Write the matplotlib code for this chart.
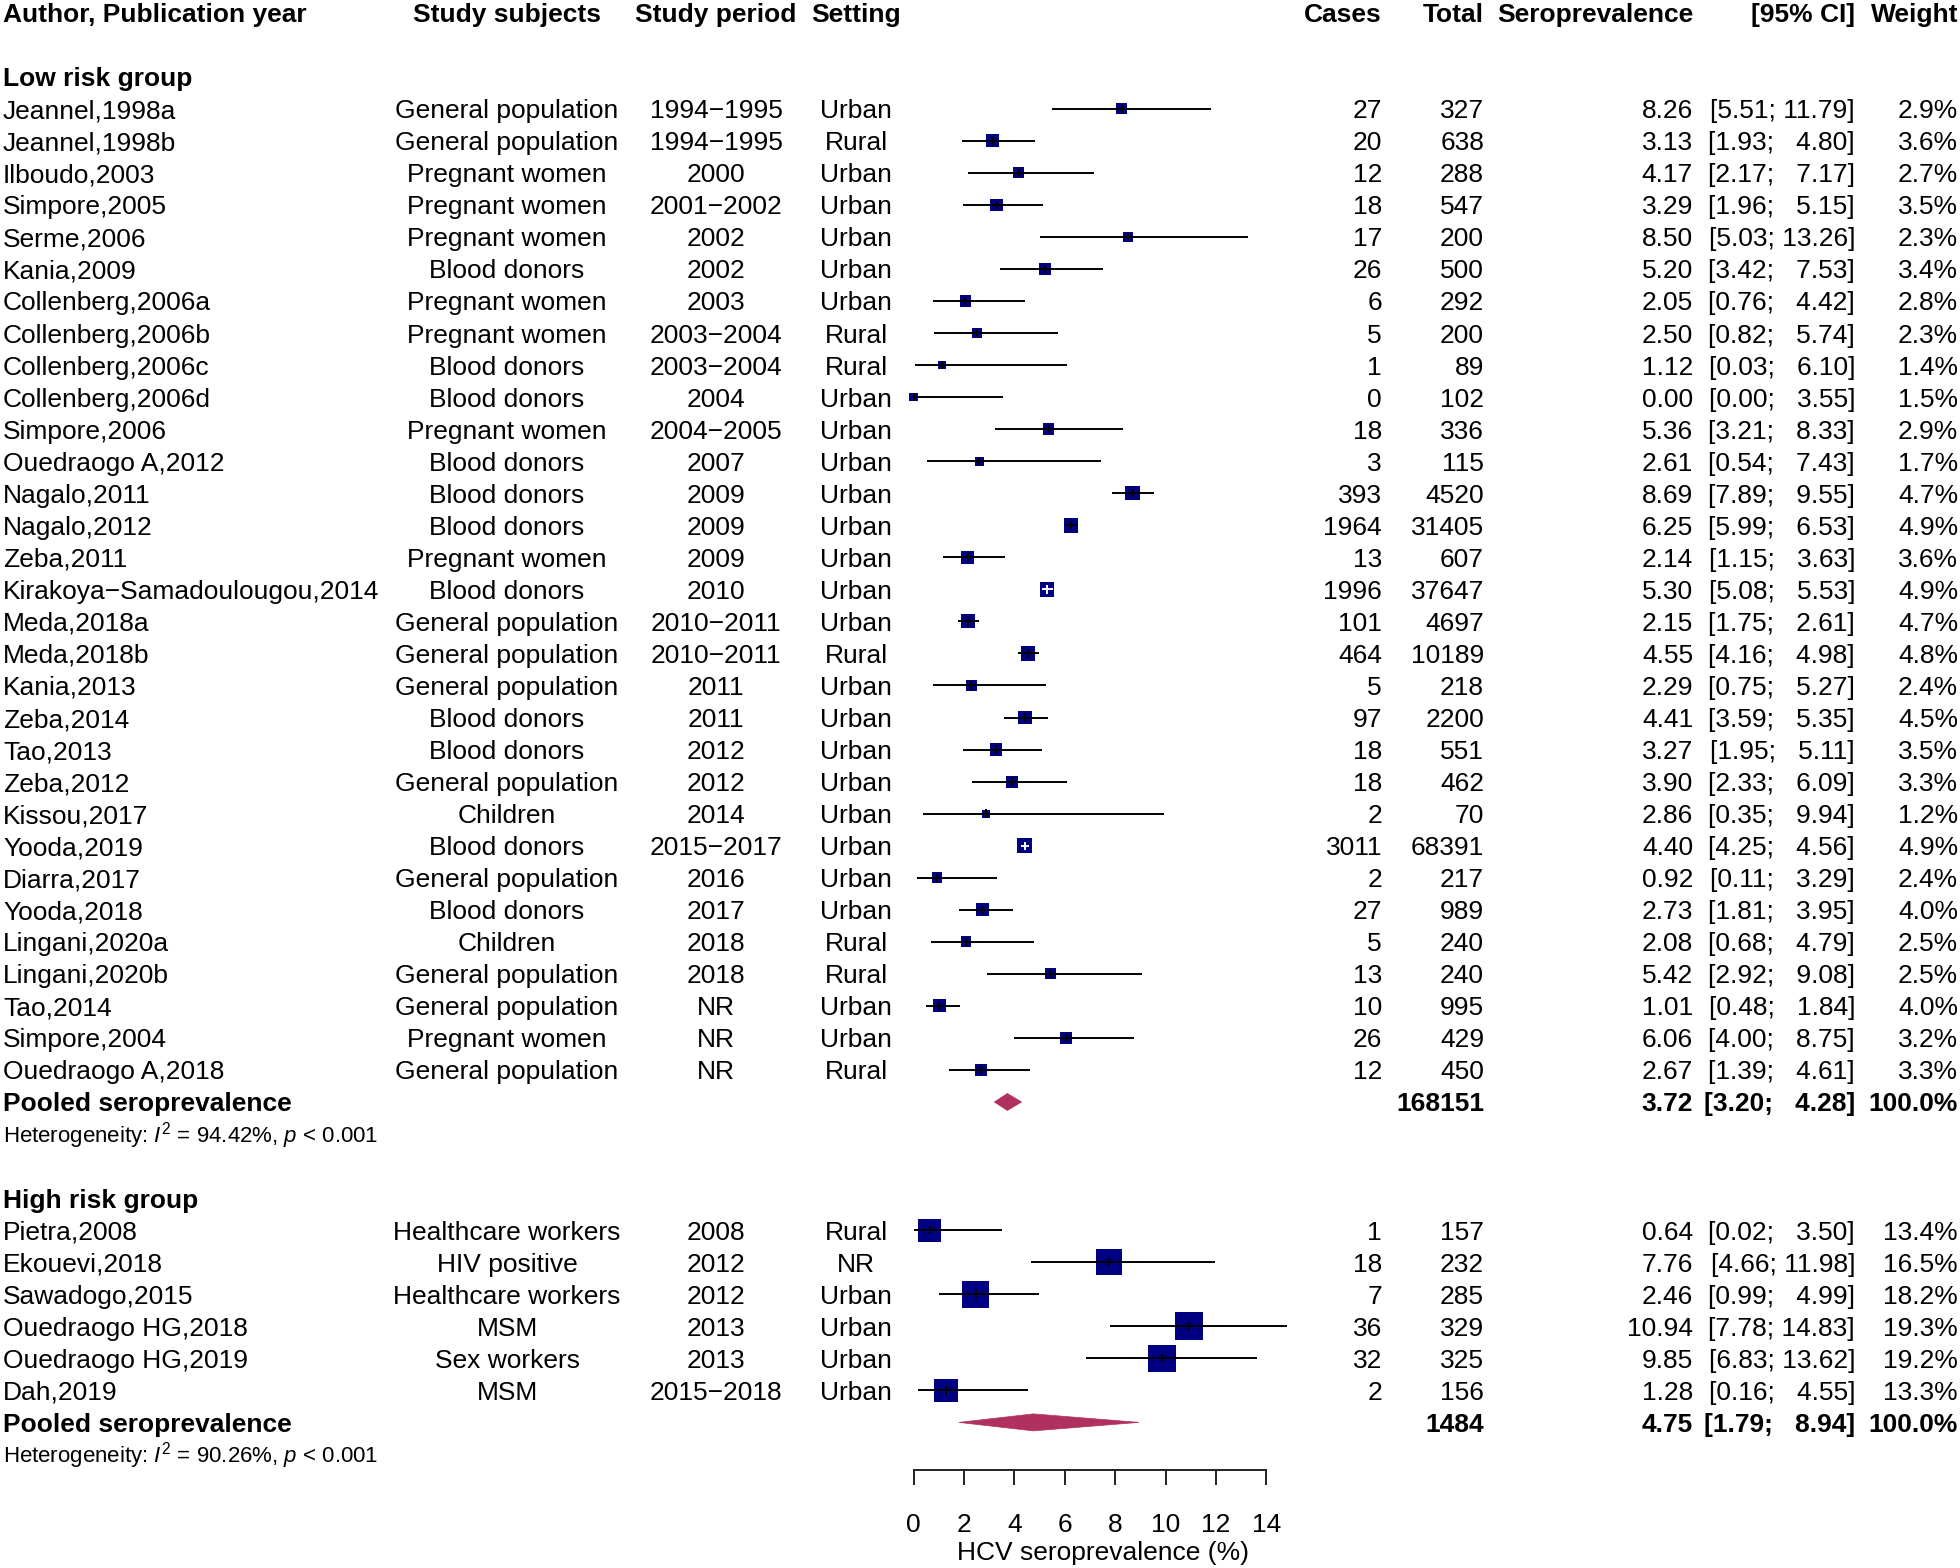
import numpy as np
import matplotlib
matplotlib.use("Agg")
import matplotlib.pyplot as plt
from matplotlib.patches import Polygon
from matplotlib.transforms import blended_transform_factory

plt.rcParams['font.family'] = ['Liberation Sans', 'DejaVu Sans']
plt.rcParams['mathtext.fontset'] = 'custom'
plt.rcParams['mathtext.rm'] = 'Liberation Sans'
plt.rcParams['mathtext.it'] = 'Liberation Sans:italic'

# ---- data: low risk group ----
low_authors = ["Jeannel,1998a", "Jeannel,1998b", "Ilboudo,2003", "Simpore,2005", "Serme,2006",
               "Kania,2009", "Collenberg,2006a", "Collenberg,2006b", "Collenberg,2006c",
               "Collenberg,2006d", "Simpore,2006", "Ouedraogo A,2012", "Nagalo,2011", "Nagalo,2012",
               "Zeba,2011", "Kirakoya\u2212Samadoulougou,2014", "Meda,2018a", "Meda,2018b",
               "Kania,2013", "Zeba,2014", "Tao,2013", "Zeba,2012", "Kissou,2017", "Yooda,2019",
               "Diarra,2017", "Yooda,2018", "Lingani,2020a", "Lingani,2020b", "Tao,2014",
               "Simpore,2004", "Ouedraogo A,2018"]
low_subjects = ["General population", "General population", "Pregnant women", "Pregnant women",
                "Pregnant women", "Blood donors", "Pregnant women", "Pregnant women", "Blood donors",
                "Blood donors", "Pregnant women", "Blood donors", "Blood donors", "Blood donors",
                "Pregnant women", "Blood donors", "General population", "General population",
                "General population", "Blood donors", "Blood donors", "General population", "Children",
                "Blood donors", "General population", "Blood donors", "Children", "General population",
                "General population", "Pregnant women", "General population"]
low_period = ["1994\u22121995", "1994\u22121995", "2000", "2001\u22122002", "2002", "2002", "2003",
              "2003\u22122004", "2003\u22122004", "2004", "2004\u22122005", "2007", "2009", "2009", "2009",
              "2010", "2010\u22122011", "2010\u22122011", "2011", "2011", "2012", "2012", "2014",
              "2015\u22122017", "2016", "2017", "2018", "2018", "NR", "NR", "NR"]
low_setting = ["Urban", "Rural", "Urban", "Urban", "Urban", "Urban", "Urban", "Rural", "Rural", "Urban",
               "Urban", "Urban", "Urban", "Urban", "Urban", "Urban", "Urban", "Rural", "Urban", "Urban",
               "Urban", "Urban", "Urban", "Urban", "Urban", "Urban", "Rural", "Rural", "Urban", "Urban",
               "Rural"]
low_cases = [27, 20, 12, 18, 17, 26, 6, 5, 1, 0, 18, 3, 393, 1964, 13, 1996, 101, 464, 5, 97, 18, 18,
             2, 3011, 2, 27, 5, 13, 10, 26, 12]
low_total = [327, 638, 288, 547, 200, 500, 292, 200, 89, 102, 336, 115, 4520, 31405, 607, 37647, 4697,
             10189, 218, 2200, 551, 462, 70, 68391, 217, 989, 240, 240, 995, 429, 450]
low_est = [8.26, 3.13, 4.17, 3.29, 8.50, 5.20, 2.05, 2.50, 1.12, 0.00, 5.36, 2.61, 8.69, 6.25, 2.14,
           5.30, 2.15, 4.55, 2.29, 4.41, 3.27, 3.90, 2.86, 4.40, 0.92, 2.73, 2.08, 5.42, 1.01, 6.06, 2.67]
low_lo = [5.51, 1.93, 2.17, 1.96, 5.03, 3.42, 0.76, 0.82, 0.03, 0.00, 3.21, 0.54, 7.89, 5.99, 1.15,
          5.08, 1.75, 4.16, 0.75, 3.59, 1.95, 2.33, 0.35, 4.25, 0.11, 1.81, 0.68, 2.92, 0.48, 4.00, 1.39]
low_hi = [11.79, 4.80, 7.17, 5.15, 13.26, 7.53, 4.42, 5.74, 6.10, 3.55, 8.33, 7.43, 9.55, 6.53, 3.63,
          5.53, 2.61, 4.98, 5.27, 5.35, 5.11, 6.09, 9.94, 4.56, 3.29, 3.95, 4.79, 9.08, 1.84, 8.75, 4.61]
low_weight = [2.9, 3.6, 2.7, 3.5, 2.3, 3.4, 2.8, 2.3, 1.4, 1.5, 2.9, 1.7, 4.7, 4.9, 3.6, 4.9, 4.7, 4.8,
              2.4, 4.5, 3.5, 3.3, 1.2, 4.9, 2.4, 4.0, 2.5, 2.5, 4.0, 3.2, 3.3]
low_pooled = (168151, 3.72, 3.20, 4.28)
low_het = r"Heterogeneity: $I^2$ = 94.42%, $p$ < 0.001"

# ---- data: high risk group ----
high_authors = ["Pietra,2008", "Ekouevi,2018", "Sawadogo,2015", "Ouedraogo HG,2018",
                "Ouedraogo HG,2019", "Dah,2019"]
high_subjects = ["Healthcare workers", "HIV positive", "Healthcare workers", "MSM", "Sex workers", "MSM"]
high_period = ["2008", "2012", "2012", "2013", "2013", "2015\u22122018"]
high_setting = ["Rural", "NR", "Urban", "Urban", "Urban", "Urban"]
high_cases = [1, 18, 7, 36, 32, 2]
high_total = [157, 232, 285, 329, 325, 156]
high_est = [0.64, 7.76, 2.46, 10.94, 9.85, 1.28]
high_lo = [0.02, 4.66, 0.99, 7.78, 6.83, 0.16]
high_hi = [3.50, 11.98, 4.99, 14.83, 13.62, 4.55]
high_weight = [13.4, 16.5, 18.2, 19.3, 19.2, 13.3]
high_pooled = (1484, 4.75, 1.79, 8.94)
high_het = r"Heterogeneity: $I^2$ = 90.26%, $p$ < 0.001"

headers = ["Author, Publication year", "Study subjects", "Study period", "Setting", "Cases", "Total",
           "Seroprevalence", "[95% CI]", "Weight"]

# ---- layout (pixels) ----
W, H = 1960, 1568
PX_UNIT = 25.18      # px per 1 % on x
X0 = 913.75          # px of x = 0
ROW = 32.04          # px per row
R0 = 108.75          # px of row 0
col_x = [3, 507, 716, 856, 1382, 1484, 1693, 1855, 1958]
col_ha = ["left", "center", "center", "center", "right", "right", "right", "right", "right"]
FS = 19
SQ = '#000080'
DIA = '#B03060'

fig = plt.figure(figsize=(W / 100, H / 100), dpi=100)
ax = fig.add_axes([0, 0, 1, 1])
ax.set_xlim(-X0 / PX_UNIT, (W - X0) / PX_UNIT)
ax.set_ylim((H - R0) / ROW, -R0 / ROW)
tr = blended_transform_factory(ax.transAxes, ax.transData)
BASE = 9.5 / ROW


def put(col, row, s, bold=False):
    ax.text(col_x[col] / W, row + BASE, s, transform=tr, ha=col_ha[col], va='baseline',
            fontsize=FS, fontweight='bold' if bold else 'normal')


def ci_str(lo, hi):
    a, b = f"{lo:.2f}", f"{hi:.2f}"
    return "[" + a + "; " + "  " * (5 - len(b)) + b + "]"


for i, h in enumerate(headers):
    put(i, -3, h, bold=True)


def draw_group(start, title, authors, subjects, period, setting, cases, total, est, lo, hi, wt,
               pooled, het):
    put(0, start, title, bold=True)
    rows = np.arange(len(authors)) + start + 1
    for k, r in enumerate(rows):
        put(0, r, authors[k])
        put(1, r, subjects[k])
        put(2, r, period[k])
        put(3, r, setting[k])
        put(4, r, str(cases[k]))
        put(5, r, str(total[k]))
        put(6, r, f"{est[k]:.2f}")
        put(7, r, ci_str(lo[k], hi[k]))
        put(8, r, f"{wt[k]:.1f}%")
    side_px = 6.0 * np.sqrt(np.array(wt)) + 1.2
    ax.scatter(est, rows, s=(side_px * 0.72) ** 2, marker='s', color=SQ, linewidths=0, zorder=3)
    inside = (np.array(hi) - np.array(lo)) * PX_UNIT < side_px - 2
    lcol = ['white' if f else 'black' for f in inside]
    ax.hlines(rows, lo, hi, colors=lcol, lw=1.4, zorder=4)
    ax.vlines(est, rows - 0.13, rows + 0.13, colors=lcol, lw=1.4, zorder=4)

    pr = rows[-1] + 1
    put(0, pr, "Pooled seroprevalence", bold=True)
    put(5, pr, str(pooled[0]), bold=True)
    put(6, pr, f"{pooled[1]:.2f}", bold=True)
    put(7, pr, ci_str(pooled[2], pooled[3]), bold=True)
    put(8, pr, "100.0%", bold=True)
    hh = 8.5 / ROW
    ax.add_patch(Polygon([(pooled[2], pr), (pooled[1], pr - hh), (pooled[3], pr), (pooled[1], pr + hh)],
                         closed=True, facecolor=DIA, edgecolor=DIA, lw=0.5, zorder=3))
    ax.text(col_x[0] / W, pr + 1 + 8 / ROW, het, transform=tr, ha='left', va='baseline', fontsize=16)
    return pr + 1


last = draw_group(-1, "Low risk group", low_authors, low_subjects, low_period, low_setting, low_cases,
                  low_total, low_est, low_lo, low_hi, low_weight, low_pooled, low_het)
last = draw_group(last + 2, "High risk group", high_authors, high_subjects, high_period, high_setting,
                  high_cases, high_total, high_est, high_lo, high_hi, high_weight, high_pooled, high_het)

# x axis
for s in ['left', 'right', 'top']:
    ax.spines[s].set_visible(False)
ax.spines['bottom'].set_position(('data', last + 0.5))
ax.spines['bottom'].set_bounds(0, 14)
ax.spines['bottom'].set_linewidth(1.4)
ax.spines['bottom'].set_color('#222222')
ax.set_yticks([])
ax.set_xticks(np.arange(0, 15, 2))
ax.tick_params(axis='x', direction='out', length=10.9, width=1.4, color='#222222', pad=19.8,
               labelsize=FS)
ax.text(7.5, (1560 - R0) / ROW, "HCV seroprevalence (%)", ha='center', va='baseline', fontsize=FS)

fig.savefig("out.png", dpi=100)
